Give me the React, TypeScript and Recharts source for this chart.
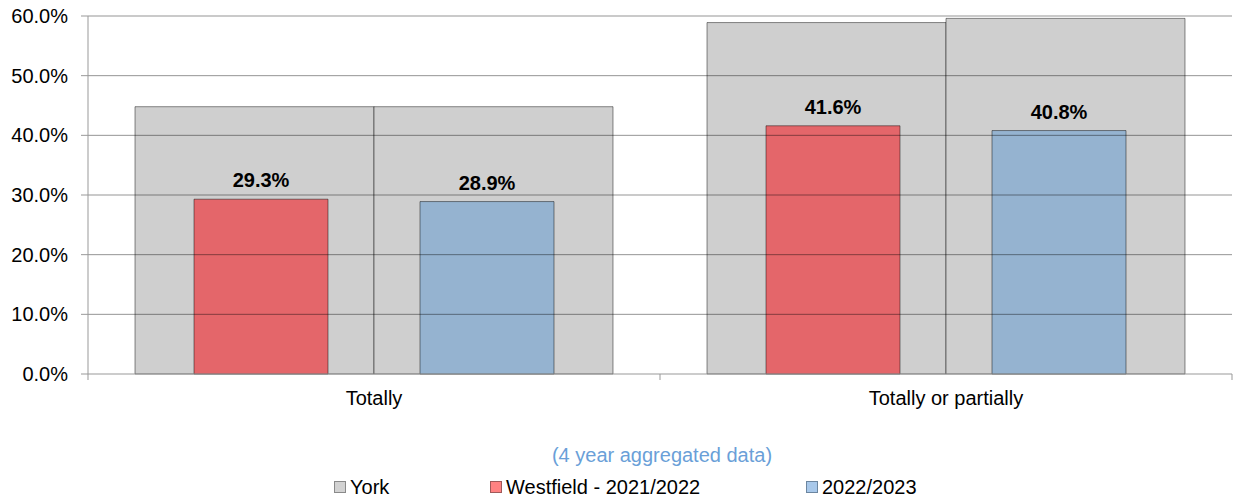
import { BarChart, Bar, XAxis, YAxis, ReferenceLine, LabelList, Legend } from 'recharts'

// values (percent)
const categories = ['Totally', 'Totally or partially']
const yorkFirstYear = [44.8, 58.9]
const yorkSecondYear = [44.8, 59.6]
const westfield2122 = [29.3, 41.6]
const westfield2223 = [28.9, 40.8]
const yTicks = [0, 10, 20, 30, 40, 50, 60]
const seriesNames = ['York', 'Westfield - 2021/2022', '2022/2023']
const caption = '(4 year aggregated data)'

const FONT = '"Liberation Sans", Arial, sans-serif'
const GREY = '#CFCFCF'
const RED = '#E4666A'
const BLUE = '#95B3D0'
const EDGE = 'rgba(0,0,0,0.45)'
const AXIS = '#999999'
const GRID = 'rgba(0,0,0,0.42)'

// legend swatches are a touch lighter than the bars in the original
const legendSwatches = ['#D2D2D2', '#FF8282', '#A8C8EA']
const legendBorders = ['#8A8A8A', '#A05A5A', '#6C86A0']
const legendLefts = [334, 490, 806]

const data = categories.map((category, i) => ({
  category,
  york1: yorkFirstYear[i],
  york2: yorkSecondYear[i],
  w2122: westfield2122[i],
  w2223: westfield2223[i],
}))

const pct = (v: unknown) => `${Number(v).toFixed(1)}%`

// category label plus the little tick marks at the band edges
function CategoryTick(props: any) {
  const { x, y, payload, index, visibleTicksCount } = props
  const half = payload?.offset ?? 0
  const axisY = y - 17
  const isLast = index === visibleTicksCount - 1
  return (
    <g>
      {half > 0 && (
        <line x1={x - half} x2={x - half} y1={axisY} y2={axisY + 6} stroke={AXIS} />
      )}
      {half > 0 && isLast && (
        <line x1={x + half} x2={x + half} y1={axisY} y2={axisY + 6} stroke={AXIS} />
      )}
      <text
        x={x}
        y={y}
        dy="0.71em"
        textAnchor="middle"
        fill="#000"
        fontSize={20}
        fontFamily={FONT}
      >
        {payload.value}
      </text>
    </g>
  )
}

function ChartLegend() {
  return (
    <div
      style={{
        position: 'relative',
        width: 1234,
        height: 64,
        fontFamily: FONT,
        fontSize: 20,
        color: '#000',
      }}
    >
      <div
        style={{
          position: 'absolute',
          left: 88,
          width: 1148,
          top: 0,
          height: 34,
          lineHeight: '34px',
          textAlign: 'center',
          color: '#6A9FD8',
        }}
      >
        {caption}
      </div>
      {seriesNames.map((name, i) => (
        <div
          key={name}
          style={{
            position: 'absolute',
            left: legendLefts[i],
            top: 34,
            height: 30,
            display: 'flex',
            alignItems: 'center',
            whiteSpace: 'nowrap',
          }}
        >
          <span
            style={{
              display: 'inline-block',
              width: 10,
              height: 10,
              background: legendSwatches[i],
              border: `1px solid ${legendBorders[i]}`,
              marginRight: 4,
            }}
          />
          {name}
        </div>
      ))}
    </div>
  )
}

export default function App() {
  return (
    <div
      style={{
        position: 'absolute',
        left: 0,
        top: 0,
        width: 1234,
        height: 502,
        background: '#fff',
        fontFamily: FONT,
      }}
    >
      <BarChart
        width={1234}
        height={502}
        data={data}
        barGap={0}
        margin={{ top: 16, right: 2, bottom: 0, left: 0 }}
      >
        <XAxis
          xAxisId="york"
          dataKey="category"
          height={64}
          interval={0}
          tickSize={0}
          tickMargin={17}
          tickLine={false}
          axisLine={{ stroke: AXIS }}
          tick={<CategoryTick />}
        />
        <XAxis xAxisId="westfield" dataKey="category" height={0} hide />
        <YAxis
          domain={[0, 60]}
          ticks={yTicks}
          interval={0}
          width={88}
          tickSize={7}
          tickMargin={13}
          tickFormatter={pct}
          axisLine={{ stroke: AXIS }}
          tickLine={{ stroke: AXIS }}
          tick={{ fill: '#000', fontSize: 20, fontFamily: FONT }}
        />
        <Bar
          xAxisId="york"
          dataKey="york1"
          name={seriesNames[0]}
          fill={GREY}
          stroke={EDGE}
          barSize={239}
          isAnimationActive={false}
        />
        <Bar
          xAxisId="york"
          dataKey="york2"
          name={seriesNames[0]}
          fill={GREY}
          stroke={EDGE}
          barSize={239}
          legendType="none"
          isAnimationActive={false}
        />
        <Bar
          xAxisId="westfield"
          dataKey="w2122"
          name={seriesNames[1]}
          fill={RED}
          stroke={EDGE}
          barSize={134}
          isAnimationActive={false}
        >
          <LabelList
            dataKey="w2122"
            position="top"
            offset={12}
            formatter={pct}
            fill="#000"
            fontSize={20}
            fontWeight="bold"
            fontFamily={FONT}
          />
        </Bar>
        {/* empty spacer keeps the gap between the two coloured bars */}
        <Bar
          xAxisId="westfield"
          dataKey={() => 0}
          fill="none"
          barSize={92}
          legendType="none"
          isAnimationActive={false}
        />
        <Bar
          xAxisId="westfield"
          dataKey="w2223"
          name={seriesNames[2]}
          fill={BLUE}
          stroke={EDGE}
          barSize={134}
          isAnimationActive={false}
        >
          <LabelList
            dataKey="w2223"
            position="top"
            offset={12}
            formatter={pct}
            fill="#000"
            fontSize={20}
            fontWeight="bold"
            fontFamily={FONT}
          />
        </Bar>
        {yTicks
          .filter(t => t > 0)
          .map(t => (
            <ReferenceLine key={t} xAxisId="york" y={t} stroke={GRID} />
          ))}
        <Legend
          verticalAlign="bottom"
          content={<ChartLegend />}
          wrapperStyle={{ left: 0, width: 1234 }}
        />
      </BarChart>
    </div>
  )
}
